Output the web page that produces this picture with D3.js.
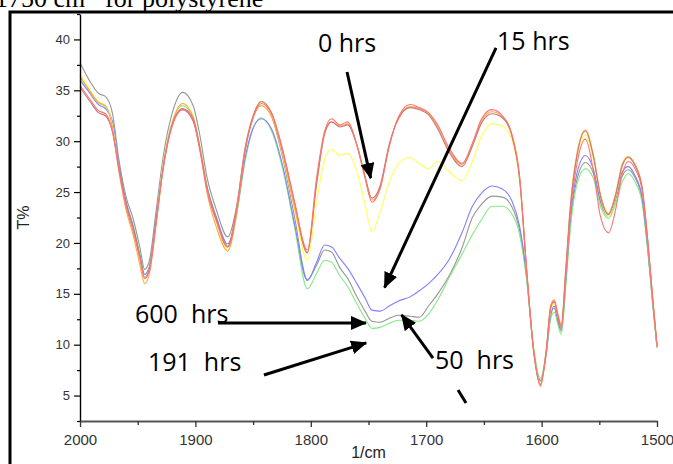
<!DOCTYPE html>
<html><head><meta charset="utf-8">
<script src="https://cdn.jsdelivr.net/npm/d3@7"></script>
<style>body{margin:0;background:#fff}svg{display:block}</style>
</head><body>
<svg id="c" width="673" height="464"></svg>
<script>
const wavenumbers = [2000,1992,1984,1978,1972,1966,1960,1954,1948,1944,
1940,1934,1928,1920,1911,1902,1896,1890,1882,1872,
1864,1857,1850,1843,1834,1824,1814,1803,1795,1788,
1782,1775,1768,1760,1753,1747,1740,1732,1724,1714,
1706,1698,1690,1680,1669,1660,1652,1643,1634,1626,
1619,1613,1607,1601,1596,1592,1589,1586,1583,1579,
1575,1569,1562,1555,1549,1542,1536,1530,1525,1519,
1513,1508,1504,1500];

const grayT = [37.7,36.0,34.7,34.4,32.8,28.0,24.5,22.4,19.5,17.4,
18.2,23.2,28.4,32.8,34.8,33.5,30.5,26.5,23.3,20.6,
23.8,29.3,32.4,33.9,32.5,28.2,22.5,16.4,17.8,19.3,
19.1,17.6,16.5,14.7,13.3,12.3,12.2,12.6,12.9,12.8,
12.7,13.8,15.0,16.8,19.5,22.5,23.8,24.6,24.5,23.6,
21.2,16.6,9.6,6.5,9.2,13.0,13.6,12.3,11.3,16.2,
22.0,26.4,27.9,26.8,24.0,22.6,24.2,26.6,27.2,26.4,
24.3,19.4,14.4,9.7];

const greenT = [36.3,35.0,33.8,33.4,31.8,27.4,24.0,21.8,18.9,16.9,
17.6,22.4,27.7,31.9,33.5,32.3,29.4,25.6,22.5,19.7,
23.0,28.0,31.2,32.3,31.0,27.1,21.5,15.5,17.0,18.3,
18.1,16.8,15.7,14.0,12.6,11.6,11.7,12.1,12.4,12.4,
12.3,13.0,14.4,16.6,18.9,20.8,22.3,23.6,23.6,22.9,
20.8,16.4,9.8,6.7,9.3,12.6,13.2,12.0,11.0,15.8,
21.5,25.9,27.3,26.3,23.6,22.4,23.8,26.0,26.8,26.0,
24.0,19.2,14.3,9.7];

const blueT = [36.0,34.8,33.6,33.2,32.0,27.5,24.0,21.6,18.7,16.9,
17.6,22.6,27.5,31.8,33.1,32.0,29.2,25.5,22.6,19.9,
23.2,28.3,31.3,32.2,31.2,27.4,21.8,16.3,18.1,19.8,
19.6,18.5,17.5,16.0,14.6,13.4,13.3,13.8,14.3,14.7,
15.3,16.0,16.9,18.4,21.0,23.6,24.9,25.6,25.3,24.2,
21.6,16.8,9.5,6.4,9.0,13.0,13.8,12.5,11.5,16.5,
22.5,27.0,28.6,27.2,24.2,22.8,24.6,27.0,27.5,26.6,
24.5,19.5,14.5,9.8];

const yellowT = [36.6,35.2,33.9,33.5,31.6,27.0,23.5,21.2,18.3,16.5,
17.3,22.2,27.6,31.9,33.7,32.5,29.4,25.4,22.1,19.3,
23.4,29.2,32.5,33.9,32.6,28.5,23.2,18.3,24.0,28.2,
29.2,28.6,28.8,27.0,23.8,21.1,23.0,26.0,27.8,28.4,
27.8,27.3,28.0,27.0,26.1,28.0,30.5,31.7,31.5,30.2,
26.0,17.2,9.6,6.2,9.3,13.4,14.0,12.9,11.8,17.2,
23.4,28.6,30.6,28.2,24.5,22.6,24.5,27.6,28.4,27.6,
25.4,20.1,14.8,9.8];

const orangeT = [36.4,35.0,33.8,33.5,31.4,26.8,23.2,20.8,17.8,16.0,
16.9,21.8,27.3,31.8,33.7,32.4,29.2,25.0,21.6,19.2,
23.0,29.0,32.3,33.5,32.4,28.6,23.4,19.1,25.8,30.7,
31.9,31.5,31.7,29.6,26.4,24.2,25.4,29.6,32.3,33.4,
33.2,32.7,31.4,29.1,27.7,29.6,32.0,32.9,32.4,30.7,
26.4,17.4,9.4,5.9,9.5,13.9,14.4,13.1,12.0,17.6,
23.8,29.0,31.1,28.6,24.8,22.9,24.8,27.8,28.5,27.7,
25.6,20.3,15.0,10.0];

const brownT = [35.3,34.0,32.8,32.5,31.0,27.2,23.8,21.5,18.6,16.6,
17.4,22.2,27.4,31.7,33.2,32.2,29.3,25.5,22.4,19.6,
23.6,29.2,32.5,33.9,32.8,29.0,24.0,19.0,25.8,30.8,
31.9,31.4,31.6,29.6,26.6,24.4,25.6,29.7,32.2,33.3,
33.1,32.6,31.2,28.9,27.5,29.5,31.8,32.7,32.3,30.6,
26.2,17.3,9.5,6.1,9.4,13.8,14.2,12.9,11.8,17.4,
23.6,28.8,31.0,28.4,24.6,22.8,24.6,27.6,28.4,27.6,
25.5,20.2,14.9,9.9];

const redT = [35.5,34.2,33.0,32.7,31.0,27.0,23.6,21.2,18.4,16.5,
17.2,22.0,27.2,31.5,33.1,32.0,29.0,25.2,22.2,19.6,
23.4,29.0,32.3,33.7,32.7,28.9,23.9,19.3,26.4,31.0,
32.2,31.6,31.9,29.6,26.4,24.0,25.3,29.5,32.4,33.6,
33.3,32.8,31.6,29.3,27.8,29.8,32.2,33.1,32.5,30.8,
26.5,17.5,9.6,6.0,9.3,13.6,14.3,12.8,11.6,17.0,
23.0,28.0,30.2,27.0,22.6,21.0,23.2,26.8,28.0,27.3,
25.2,20.0,14.8,9.8];

const seriesNames = ["gray","green","blue","yellow","orange","brown","red"];
const seriesValues = [grayT, greenT, blueT, yellowT, orangeT, brownT, redT];
const seriesColors = ["#969696","#84ea84","#8080ff","#ffff5a","#ffa848","#c47a7a","#ff7373"];

const xMajorTicks = [2000,1900,1800,1700,1600,1500];
const xMinorTicks = [1950,1850,1750,1650,1550];
const yMajorTicks = [5,10,15,20,25,30,35,40];
const yMinorTicks = [2.5,7.5,12.5,17.5,22.5,27.5,32.5,37.5,42.5];

// annotation labels: text, start wavenumber, baseline T%
const labelTexts = ["0 hrs","15 hrs","600  hrs","191  hrs","50  hrs"];
const labelWn = [1793.8,1638.6,1952.3,1941.1,1692.4];
const labelT = [38.8,39.0,12.13,7.41,7.61];

// arrows: from (wn,T) to (wn,T)
const arrowFromWn = [1768.6,1639.5,1880.4,1840.6,1694.1];
const arrowFromT  = [36.8,39.16,12.13,7.02,8.69];
const arrowToWn   = [1747.0,1738.3,1747.0,1747.0,1724.4];
const arrowToT    = [25.79,15.08,12.13,10.36,13.41];
const dashWn = [1672.4,1665.5];
const dashT = [5.55,4.27];

const svg = d3.select("#c");
const x = d3.scaleLinear().domain([2000,1500]).range([80,657]);
const y = d3.scaleLinear().domain([2.5,42.5]).range([421,14]);

// frame & title
svg.append("path").attr("d","M10,470V12H680").attr("fill","none").attr("stroke","#000").attr("stroke-width",3);
const title = svg.append("text").attr("x",-5).attr("y",6.5)
  .attr("font-family","'Liberation Serif', serif").attr("font-size",26).attr("fill","#000");
title.append("tspan").text("1750 cm");
title.append("tspan").attr("dy",-10).attr("font-size",16).text("-1");
title.append("tspan").attr("dy",10).text(" for polystyrene");

// lines
const line = d3.line().x((d,i)=>x(wavenumbers[i])).y(d=>y(d)).curve(d3.curveMonotoneX);
svg.append("g").selectAll("path").data(seriesValues).join("path")
  .attr("d", d=>line(d)).attr("fill","none")
  .attr("stroke",(d,i)=>seriesColors[i]).attr("stroke-width",1.1);

// axes
const fontAx = "'Liberation Sans', Arial, sans-serif";
const yAxis = svg.append("g").attr("transform","translate(80,0)")
  .call(d3.axisLeft(y).tickValues(yMajorTicks).tickSize(6).tickSizeOuter(0).tickPadding(4));
yAxis.select(".domain").attr("stroke","#000").attr("stroke-width",1.4);
yAxis.selectAll(".tick line").attr("stroke","#000").attr("stroke-width",1.2);
yAxis.selectAll(".tick text").attr("font-family",fontAx).attr("font-size",13).attr("fill","#333");
const yMinor = svg.append("g").attr("transform","translate(80,0)")
  .call(d3.axisLeft(y).tickValues(yMinorTicks).tickSize(3).tickFormat(""));
yMinor.select(".domain").remove();
yMinor.selectAll(".tick line").attr("stroke","#000").attr("stroke-width",1.2);

const xAxis = svg.append("g").attr("transform","translate(0,421)")
  .call(d3.axisBottom(x).tickValues(xMajorTicks).tickSize(6).tickSizeOuter(0).tickPadding(7).tickFormat(d3.format("d")));
xAxis.select(".domain").attr("stroke","#555").attr("stroke-width",2.2);
xAxis.selectAll(".tick line").attr("stroke","#333").attr("stroke-width",1.3);
xAxis.selectAll(".tick text").attr("font-family",fontAx).attr("font-size",15).attr("fill","#333");
const xMinor = svg.append("g").attr("transform","translate(0,421)")
  .call(d3.axisBottom(x).tickValues(xMinorTicks).tickSize(4).tickFormat(""));
xMinor.select(".domain").remove();
xMinor.selectAll(".tick line").attr("stroke","#333").attr("stroke-width",1.3);

svg.append("text").attr("x",(x(2000)+x(1500))/2).attr("y",458).attr("text-anchor","middle")
  .attr("font-family",fontAx).attr("font-size",16).attr("fill","#222").text("1/cm");
svg.append("text").attr("transform","translate(29,"+y(22.5)+") rotate(-90)").attr("text-anchor","middle")
  .attr("font-family",fontAx).attr("font-size",16).attr("fill","#222").text("T%");

// annotations
const defs = svg.append("defs");
defs.append("marker").attr("id","ah").attr("markerUnits","userSpaceOnUse")
  .attr("markerWidth",16).attr("markerHeight",14).attr("refX",15).attr("refY",7).attr("orient","auto")
  .append("path").attr("d","M0,0L16,7L0,14Z").attr("fill","#000");

const ann = svg.append("g");
arrowFromWn.forEach((w,i)=>{
  const x1 = x(w), y1 = y(arrowFromT[i]), x2 = x(arrowToWn[i]), y2 = y(arrowToT[i]);
  const dx = x2-x1, dy = y2-y1, L = Math.hypot(dx,dy);
  ann.append("line").attr("x1",x1).attr("y1",y1)
    .attr("x2",x2 - dx/L*6).attr("y2",y2 - dy/L*6)
    .attr("stroke","#000").attr("stroke-width",3).attr("marker-end","url(#ah)");
});
ann.append("line").attr("x1",x(dashWn[0])).attr("y1",y(dashT[0])).attr("x2",x(dashWn[1])).attr("y2",y(dashT[1]))
  .attr("stroke","#000").attr("stroke-width",3);

ann.selectAll("text.lab").data(labelTexts).join("text").attr("class","lab")
  .attr("x",(d,i)=>x(labelWn[i])).attr("y",(d,i)=>y(labelT[i]))
  .attr("font-family","'Open Sans', sans-serif").attr("font-size",25).attr("fill","#000")
  .style("white-space","pre").text(d=>d);
</script>
</body></html>
